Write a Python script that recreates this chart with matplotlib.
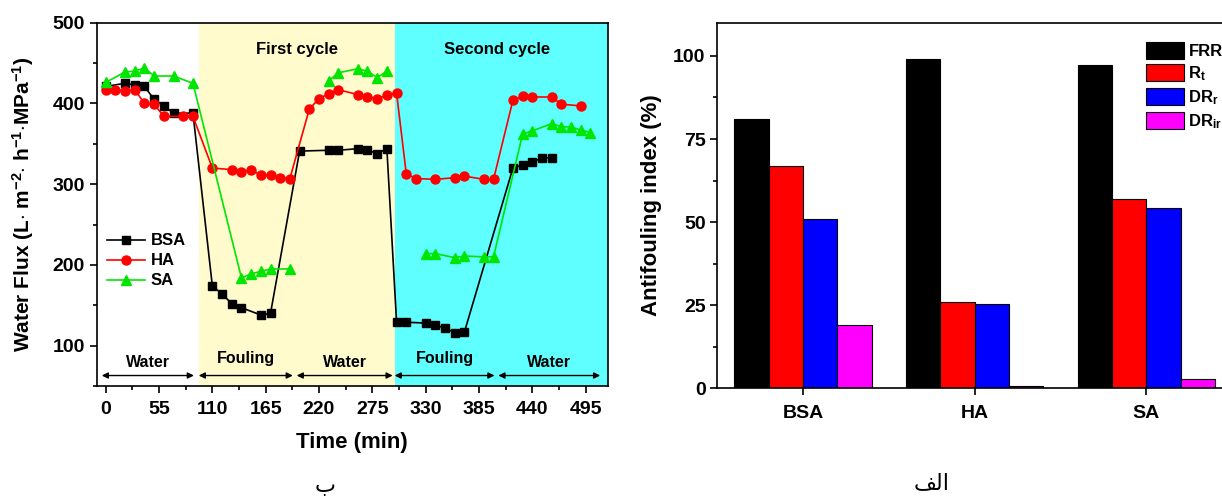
import numpy as np
import matplotlib
matplotlib.use("Agg")
import matplotlib.pyplot as plt
from matplotlib.patches import Patch
from matplotlib.ticker import MultipleLocator

plt.rcParams['font.family'] = ['Liberation Sans', 'DejaVu Sans']
plt.rcParams['font.weight'] = 'bold'
plt.rcParams['mathtext.fontset'] = 'custom'
plt.rcParams['mathtext.bf'] = 'Liberation Sans:bold'
plt.rcParams['mathtext.rm'] = 'Liberation Sans:bold'
plt.rcParams['mathtext.default'] = 'bf'

nan = np.nan

# left panel: water flux vs time
bsa_t = [0, 20, 30, 40, 50, 60, 70, 90,
         110, 120, 130, 140, 160, 170,
         200, 230, 240, 260, 270, 280, 290,
         300, 310, 330, 340, 350, 360, 370,
         420, 430, 440, 450, 460]
bsa_flux = [421, 425, 423, 421, 405, 397, 388, 388,
            174, 164, 152, 147, 138, 140,
            341, 342, 342, 344, 342, 338, 344,
            129, 129, 128, 125, 122, 116, 117,
            320, 324, 328, 332, 333]

ha_t = [0, 10, 20, 30, 40, 50, 60, 80, 90,
        110, 130, 140, 150, 160, 170, 180, 190,
        210, 220, 230, 240, 260, 270, 280, 290, 300,
        310, 320, 340, 360, 370, 390, 400,
        420, 430, 440, 460, 470, 490]
ha_flux = [417, 417, 415, 417, 400, 399, 384, 384, 384,
           320, 318, 315, 318, 311, 311, 308, 307,
           393, 406, 412, 417, 411, 408, 406, 410, 413,
           313, 307, 306, 308, 310, 306, 306,
           404, 409, 408, 408, 399, 397]

sa_t = [0, 20, 30, 40, 50, 70, 90,
        140, 150, 160, 170, 190, 210,
        230, 240, 260, 270, 280, 290, 310,
        330, 340, 360, 370, 390, 400,
        430, 440, 460, 470, 480, 490, 500]
sa_flux = [426, 439, 440, 444, 434, 434, 425,
           184, 189, 192, 195, 195, nan,
           428, 438, 443, 440, 432, 440, nan,
           214, 214, 209, 211, 210, 210,
           362, 366, 375, 371, 371, 367, 364]

stage_names = ['Water', 'Fouling', 'Water', 'Fouling', 'Water']
stage_start = [-4, 96, 197, 298, 405]
stage_end = [91, 193, 296, 401, 510]
cycle_names = ['First cycle', 'Second cycle']
cycle_start = [96, 298]
cycle_end = [298, 518]
cycle_colors = ['#FFFBCC', '#5FFFFF']

# right panel: antifouling indexes
foulants = ['BSA', 'HA', 'SA']
index_names = ['FRR', 'R$_{t}$', 'DR$_{r}$', 'DR$_{ir}$']
index_values = [
    [81.0, 99.2, 97.4],   # FRR
    [66.9, 26.0, 56.9],   # Rt
    [50.8, 25.3, 54.3],   # DRr
    [19.0, 0.8, 2.8],     # DRir
]
bar_colors = ['#000000', '#FF0000', '#0000FF', '#FF00FF']

fig = plt.figure(figsize=(12.22, 4.97), dpi=100)

# ---- left chart
ax1 = fig.add_axes([0.0791, 0.2233, 0.4184, 0.731])
for s, e, c in zip(cycle_start, cycle_end, cycle_colors):
    ax1.axvspan(s, e, color=c, lw=0, zorder=0)

ax1.plot(bsa_t, bsa_flux, '-s', color='black', lw=1.2, ms=5.5, label='BSA', zorder=3)
ax1.plot(ha_t, ha_flux, '-o', color='#FF0000', lw=1.2, ms=6.5, label='HA', zorder=3)
ax1.plot(sa_t, sa_flux, '-^', color='#00E600', lw=1.2, ms=6.5, label='SA', zorder=3)

for name, s, e in zip(stage_names, stage_start, stage_end):
    ax1.annotate('', xy=(e, 63), xytext=(s, 63),
                 arrowprops=dict(arrowstyle='<|-|>', color='black', lw=1,
                                 mutation_scale=9, shrinkA=0, shrinkB=0))
    ty = 84 if name == 'Fouling' else 79
    ax1.text((s + e) / 2, ty, name, ha='center', va='center', fontsize=11.5,
             fontweight='bold')

for name, s, e in zip(cycle_names, cycle_start, cycle_end):
    ax1.text((s + e) / 2 - (4 if e > 500 else 0), 467, name, ha='center',
             va='center', fontsize=12, fontweight='bold')

ax1.set_xlim(-9.3, 518)
ax1.set_ylim(50, 500)
ax1.set_xticks(np.arange(0, 496, 55))
ax1.xaxis.set_minor_locator(MultipleLocator(27.5))
ax1.set_yticks([100, 200, 300, 400, 500])
ax1.yaxis.set_minor_locator(MultipleLocator(50))
ax1.tick_params(which='major', direction='out', length=5, width=1.2, labelsize=14)
ax1.tick_params(which='minor', direction='out', length=3, width=1.2)
ax1.tick_params(axis='x', pad=6)
for lab in ax1.get_xticklabels() + ax1.get_yticklabels():
    lab.set_fontweight('bold')
for sp in ax1.spines.values():
    sp.set_linewidth(1.2)
ax1.set_xlabel('Time (min)', fontsize=16, fontweight='bold', labelpad=10)
ax1.set_ylabel('Water Flux (L$\\cdot$ m$^{-2}$$\\cdot$ h$^{-1}$$\\cdot$MPa$^{-1}$)',
               fontsize=15, fontweight='bold', labelpad=12)
ax1.legend(loc='upper left', bbox_to_anchor=(0.0196, 0.42), frameon=False,
           handlelength=2.3, handletextpad=0.35, labelspacing=0.3,
           borderpad=0, borderaxespad=0, prop={'weight': 'bold', 'size': 12})

# ---- right chart
ax2 = fig.add_axes([0.587, 0.2187, 0.4214, 0.7356])
x = np.arange(len(foulants))
width = 0.2
for i, (vals, col) in enumerate(zip(index_values, bar_colors)):
    ax2.bar(x + (i - 1.5) * width, vals, width, color=col, edgecolor='black',
            linewidth=0.8, label=index_names[i], zorder=2)
ax2.set_xlim(-0.5, 2.5)
ax2.set_ylim(0, 110)
ax2.set_xticks(x)
ax2.set_xticklabels(foulants, fontsize=15, fontweight='bold')
ax2.set_yticks([0, 25, 50, 75, 100])
ax2.yaxis.set_minor_locator(MultipleLocator(12.5))
ax2.tick_params(which='major', direction='out', length=5, width=1.2, labelsize=14)
ax2.tick_params(which='minor', direction='out', length=3, width=1.2)
ax2.tick_params(axis='x', pad=7)
for lab in ax2.get_yticklabels():
    lab.set_fontweight('bold')
for sp in ax2.spines.values():
    sp.set_linewidth(1.2)
ax2.set_ylabel('Antifouling index (%)', fontsize=16, fontweight='bold', labelpad=8)
handles = [Patch(facecolor=c, edgecolor='black', linewidth=0.8) for c in bar_colors]
fig.legend(handles, index_names, loc='upper left',
           bbox_to_anchor=(1146 / 1222, 1 - 42 / 497), frameon=False,
           handlelength=2.3, handleheight=1.2, handletextpad=0.25,
           labelspacing=0.3, borderpad=0, borderaxespad=0,
           prop={'weight': 'bold', 'size': 12})

# panel captions
fig.text(325 / 1222, 1 - 486 / 497, '\u0628', ha='center', va='center',
         fontsize=16, family=['DejaVu Sans'], fontweight='normal')
fig.text(932 / 1222, 1 - 483 / 497, '\uFED2\uFEDF\u0627', ha='center', va='center',
         fontsize=16, family=['DejaVu Sans'], fontweight='normal')

fig.savefig('out.png', dpi=100)
